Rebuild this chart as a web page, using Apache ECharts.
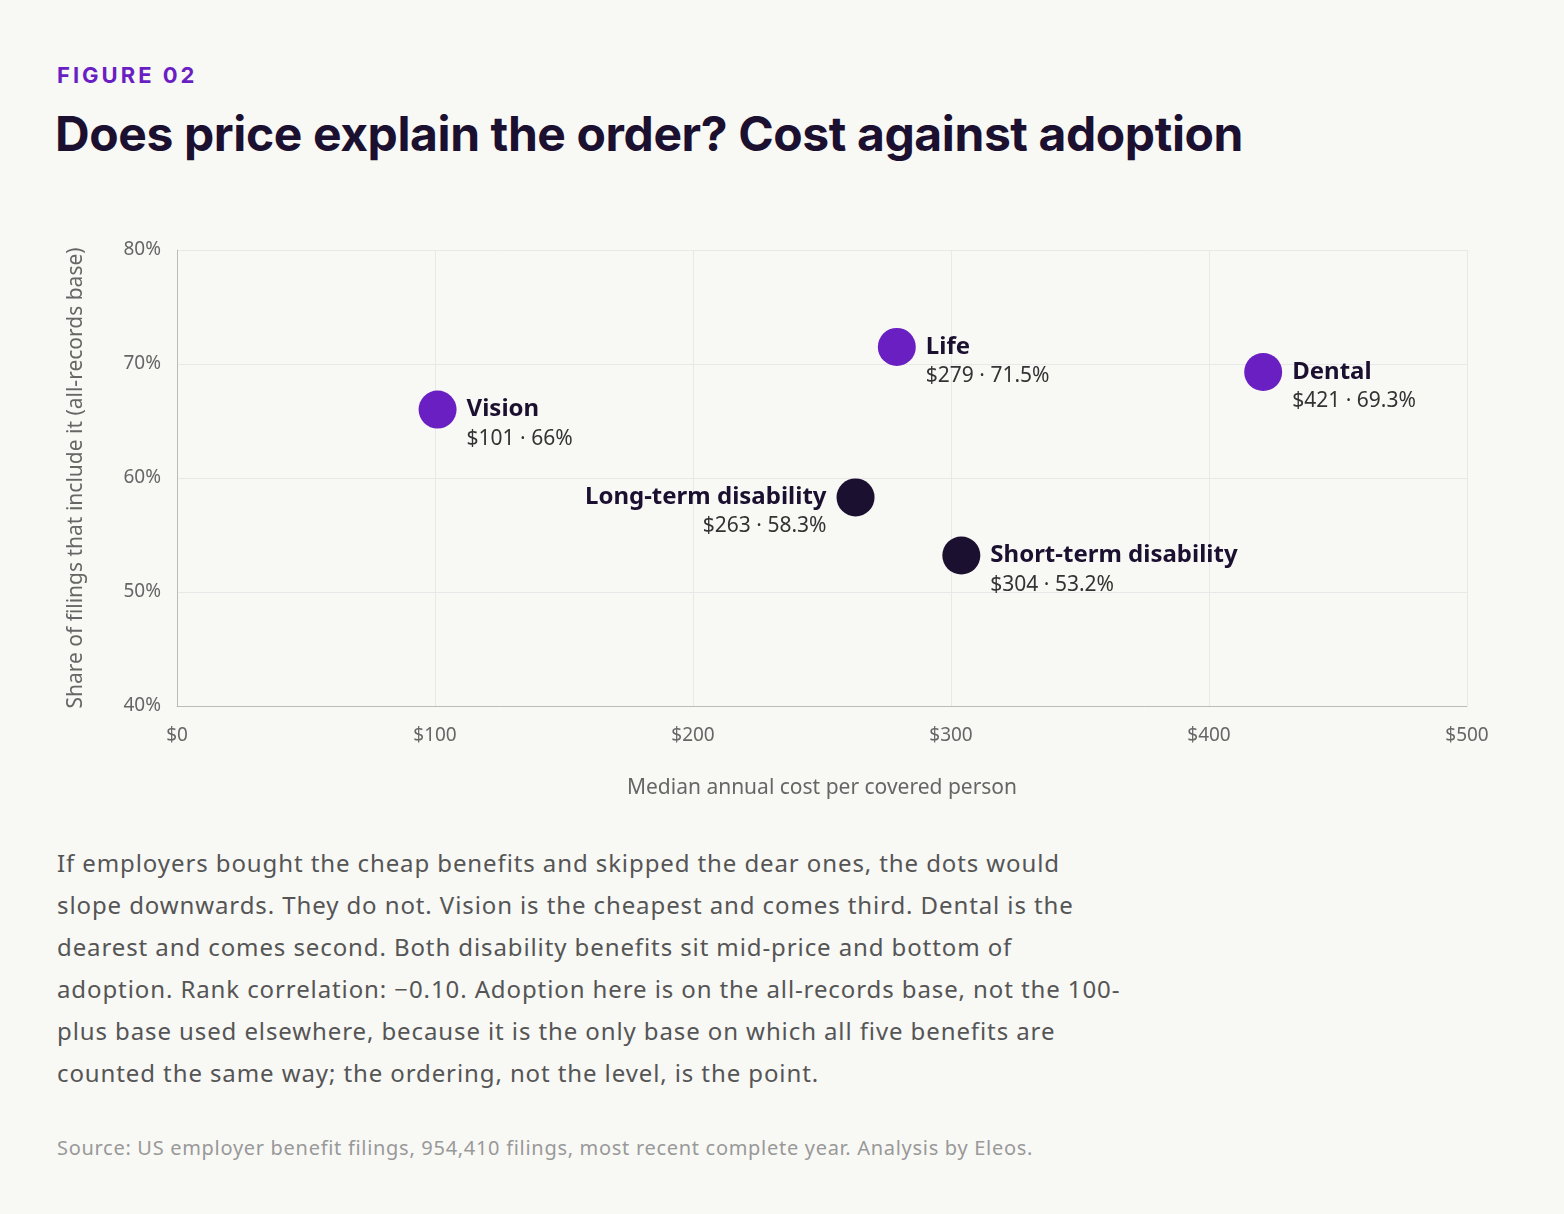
<!DOCTYPE html>
<html><head><meta charset="utf-8">
<script src="https://cdn.jsdelivr.net/npm/echarts@6/dist/echarts.min.js"></script>
<style>
body{margin:0;background:#f8f8f5;width:1564px;height:1214px;position:relative;overflow:hidden;font-family:"Noto Sans",sans-serif;}
#fig{position:absolute;left:57px;top:62px;font:700 22px Inter,sans-serif;letter-spacing:3px;color:#6a1fc2;}
#title{position:absolute;left:55px;top:104px;font:700 48px Inter,sans-serif;letter-spacing:-0.4px;color:#1c1030;}
#chart{position:absolute;left:0;top:200px;width:1564px;height:620px;}
#body{position:absolute;left:57px;top:842px;width:1250px;font:400 24px "Noto Sans",sans-serif;letter-spacing:0.9px;line-height:42px;color:#555;white-space:nowrap;}
#src{position:absolute;left:57px;top:1134px;font:400 20px "Noto Sans",sans-serif;letter-spacing:0.7px;color:#999;}
</style></head><body>
<div id="fig">FIGURE 02</div>
<div id="title">Does price explain the order? Cost against adoption</div>
<div id="chart"></div>
<div id="body">If employers bought the cheap benefits and skipped the dear ones, the dots would<br>slope downwards. They do not. Vision is the cheapest and comes third. Dental is the<br>dearest and comes second. Both disability benefits sit mid-price and bottom of<br>adoption. Rank correlation: −0.10. Adoption here is on the all-records base, not the 100-<br>plus base used elsewhere, because it is the only base on which all five benefits are<br>counted the same way; the ordering, not the level, is the point.</div>
<div id="src">Source: US employer benefit filings, 954,410 filings, most recent complete year. Analysis by Eleos.</div>
<script>
const names=["Vision","Life","Dental","Long-term disability","Short-term disability"];
const costs=[101,279,421,263,304];
const shares=[66,71.5,69.3,58.3,53.2];
const valueLabels=["$101 · 66%","$279 · 71.5%","$421 · 69.3%","$263 · 58.3%","$304 · 53.2%"];
const groups=["purple","purple","purple","dark","dark"];
const colors={purple:"#6a1fc2",dark:"#1c1030"};
const data=names.map((n,i)=>{
  const left=n==="Long-term disability";
  return {value:[costs[i],shares[i]],name:n,itemStyle:{color:colors[groups[i]],opacity:1},
    label:{show:true,position:left?'left':'right',align:left?'right':'left',distance:10,offset:[0,14],
      formatter:'{n|'+n+'}\n{v|'+valueLabels[i]+'}',
      rich:{n:{fontFamily:'Noto Sans',fontWeight:700,fontSize:24,color:'#1c1030',lineHeight:30},
            v:{fontFamily:'Noto Sans',fontSize:21,color:'#333',lineHeight:28}}}};
});
const c=echarts.init(document.getElementById('chart'));
c.setOption({
  grid:{left:177,right:97,top:50,bottom:114},
  xAxis:{type:'value',min:0,max:500,interval:100,name:'Median annual cost per covered person',nameLocation:'middle',nameGap:72,
    nameTextStyle:{fontSize:21,color:'#666',fontFamily:'Noto Sans'},
    axisLabel:{formatter:'${value}',fontSize:19,color:'#666',margin:20,fontFamily:'Noto Sans'},
    axisLine:{lineStyle:{color:'#bbb'}},axisTick:{show:false},splitLine:{lineStyle:{color:'#e8e8e8'}}},
  yAxis:{type:'value',min:40,max:80,interval:10,name:'Share of filings that include it (all-records base)',nameLocation:'middle',nameGap:90,
    nameTextStyle:{fontSize:21,color:'#666',fontFamily:'Noto Sans'},
    axisLabel:{formatter:'{value}%',fontSize:19,color:'#666',margin:16,fontFamily:'Noto Sans'},
    axisLine:{show:true,lineStyle:{color:'#bbb'}},axisTick:{show:false},splitLine:{lineStyle:{color:'#e8e8e8'}}},
  series:[{type:'scatter',symbolSize:38,data:data}]
});
</script></body></html>
